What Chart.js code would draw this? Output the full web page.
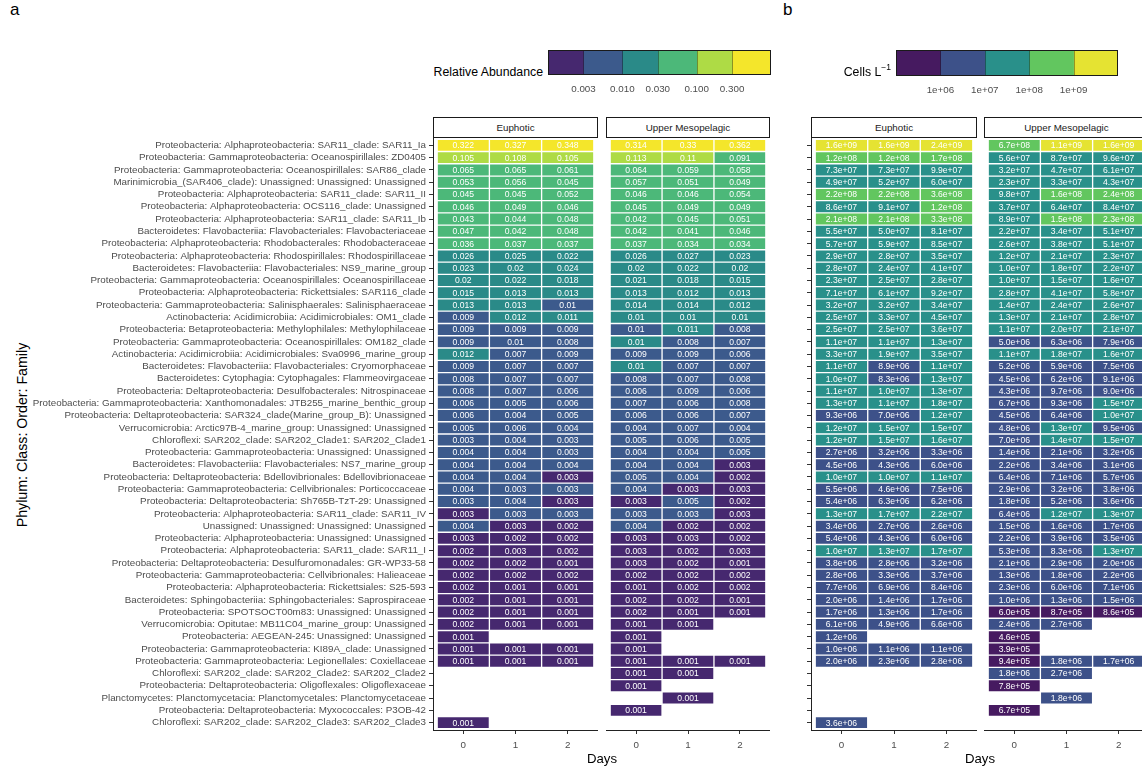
<!DOCTYPE html>
<html>
<head>
<meta charset="utf-8">
<script src="https://cdn.jsdelivr.net/npm/chart.js@4.4.1/dist/chart.umd.min.js"></script>
<style>
  html, body { margin: 0; padding: 0; background: #fff; }
  body { width: 1142px; height: 767px; overflow: hidden; position: relative;
         font-family: "Liberation Sans", Arial, sans-serif; color: #000; }
  canvas { position: absolute; }
  .txt { position: absolute; white-space: nowrap; }
  .strip { position: absolute; top: 117px; height: 21px; box-sizing: border-box;
           border: 1px solid #1a1a1a; background: #fff; font-size: 9.8px; color: #1a1a1a;
           text-align: center; line-height: 19px; }
</style>
</head>
<body>
<div class="txt" style="left:10px;top:0px;font-size:17px;">a</div>
<div class="txt" style="left:783px;top:0px;font-size:17px;">b</div>

<div class="txt" style="left:300px;width:243px;top:65px;text-align:right;font-size:12.3px;">Relative Abundance</div>
<canvas id="legA" width="223" height="50" style="left:548px;top:50px;"></canvas>
<div class="txt" style="left:700px;width:191px;top:65px;text-align:right;font-size:12.3px;">Cells L<sup style="font-size:8.5px;vertical-align:0;position:relative;top:-6px;">&minus;1</sup></div>
<canvas id="legB" width="222" height="51" style="left:896px;top:50px;"></canvas>

<div class="txt" style="left:-128px;width:300px;top:427px;text-align:center;font-size:14.2px;transform:rotate(-90deg);">Phylum: Class: Order: Family</div>

<div class="strip" style="left:433px;width:165px;">Euphotic</div>
<div class="strip" style="left:606px;width:164px;">Upper Mesopelagic</div>
<div class="strip" style="left:811px;width:166px;">Euphotic</div>
<div class="strip" style="left:984px;width:165px;">Upper Mesopelagic</div>

<canvas id="aEuph" width="598" height="622" style="left:0px;top:138px;"></canvas>
<canvas id="aMeso" width="164" height="622" style="left:606px;top:138px;"></canvas>
<canvas id="bEuph" width="197" height="622" style="left:780px;top:138px;"></canvas>
<canvas id="bMeso" width="165" height="622" style="left:984px;top:138px;"></canvas>

<div class="txt" style="left:552px;width:100px;top:751px;text-align:center;font-size:13.2px;">Days</div>
<div class="txt" style="left:930px;width:100px;top:751px;text-align:center;font-size:13.2px;">Days</div>

<script>
// ---- taxa (rows, top to bottom) ----
const taxa = [
  "Proteobacteria: Alphaproteobacteria: SAR11_clade: SAR11_Ia",
  "Proteobacteria: Gammaproteobacteria: Oceanospirillales: ZD0405",
  "Proteobacteria: Gammaproteobacteria: Oceanospirillales: SAR86_clade",
  "Marinimicrobia_(SAR406_clade): Unassigned: Unassigned: Unassigned",
  "Proteobacteria: Alphaproteobacteria: SAR11_clade: SAR11_II",
  "Proteobacteria: Alphaproteobacteria: OCS116_clade: Unassigned",
  "Proteobacteria: Alphaproteobacteria: SAR11_clade: SAR11_Ib",
  "Bacteroidetes: Flavobacteriia: Flavobacteriales: Flavobacteriaceae",
  "Proteobacteria: Alphaproteobacteria: Rhodobacterales: Rhodobacteraceae",
  "Proteobacteria: Alphaproteobacteria: Rhodospirillales: Rhodospirillaceae",
  "Bacteroidetes: Flavobacteriia: Flavobacteriales: NS9_marine_group",
  "Proteobacteria: Gammaproteobacteria: Oceanospirillales: Oceanospirillaceae",
  "Proteobacteria: Alphaproteobacteria: Rickettsiales: SAR116_clade",
  "Proteobacteria: Gammaproteobacteria: Salinisphaerales: Salinisphaeraceae",
  "Actinobacteria: Acidimicrobiia: Acidimicrobiales: OM1_clade",
  "Proteobacteria: Betaproteobacteria: Methylophilales: Methylophilaceae",
  "Proteobacteria: Gammaproteobacteria: Oceanospirillales: OM182_clade",
  "Actinobacteria: Acidimicrobiia: Acidimicrobiales: Sva0996_marine_group",
  "Bacteroidetes: Flavobacteriia: Flavobacteriales: Cryomorphaceae",
  "Bacteroidetes: Cytophagia: Cytophagales: Flammeovirgaceae",
  "Proteobacteria: Deltaproteobacteria: Desulfobacterales: Nitrospinaceae",
  "Proteobacteria: Gammaproteobacteria: Xanthomonadales: JTB255_marine_benthic_group",
  "Proteobacteria: Deltaproteobacteria: SAR324_clade(Marine_group_B): Unassigned",
  "Verrucomicrobia: Arctic97B-4_marine_group: Unassigned: Unassigned",
  "Chloroflexi: SAR202_clade: SAR202_Clade1: SAR202_Clade1",
  "Proteobacteria: Gammaproteobacteria: Unassigned: Unassigned",
  "Bacteroidetes: Flavobacteriia: Flavobacteriales: NS7_marine_group",
  "Proteobacteria: Deltaproteobacteria: Bdellovibrionales: Bdellovibrionaceae",
  "Proteobacteria: Gammaproteobacteria: Cellvibrionales: Porticoccaceae",
  "Proteobacteria: Deltaproteobacteria: Sh765B-TzT-29: Unassigned",
  "Proteobacteria: Alphaproteobacteria: SAR11_clade: SAR11_IV",
  "Unassigned: Unassigned: Unassigned: Unassigned",
  "Proteobacteria: Alphaproteobacteria: Unassigned: Unassigned",
  "Proteobacteria: Alphaproteobacteria: SAR11_clade: SAR11_I",
  "Proteobacteria: Deltaproteobacteria: Desulfuromonadales: GR-WP33-58",
  "Proteobacteria: Gammaproteobacteria: Cellvibrionales: Halieaceae",
  "Proteobacteria: Alphaproteobacteria: Rickettsiales: S25-593",
  "Bacteroidetes: Sphingobacteriia: Sphingobacteriales: Saprospiraceae",
  "Proteobacteria: SPOTSOCT00m83: Unassigned: Unassigned",
  "Verrucomicrobia: Opitutae: MB11C04_marine_group: Unassigned",
  "Proteobacteria: AEGEAN-245: Unassigned: Unassigned",
  "Proteobacteria: Gammaproteobacteria: KI89A_clade: Unassigned",
  "Proteobacteria: Gammaproteobacteria: Legionellales: Coxiellaceae",
  "Chloroflexi: SAR202_clade: SAR202_Clade2: SAR202_Clade2",
  "Proteobacteria: Deltaproteobacteria: Oligoflexales: Oligoflexaceae",
  "Planctomycetes: Planctomycetacia: Planctomycetales: Planctomycetaceae",
  "Proteobacteria: Deltaproteobacteria: Myxococcales: P3OB-42",
  "Chloroflexi: SAR202_clade: SAR202_Clade3: SAR202_Clade3"
];
const days = [0, 1, 2];

// ---- relative abundance, euphotic ----
const raEuphDay0 = [0.322,0.105,0.065,0.053,0.045,0.046,0.043,0.047,0.036,0.026,0.023,0.02,0.015,0.013,0.009,0.009,0.009,0.012,0.009,0.008,0.008,0.006,0.006,0.005,0.003,0.004,0.004,0.004,0.004,0.003,0.0029,0.004,0.0029,0.002,0.002,0.002,0.002,0.002,0.002,0.002,0.001,0.001,0.001,null,null,null,null,0.001];
const raEuphDay1 = [0.327,0.108,0.065,0.056,0.045,0.049,0.044,0.042,0.037,0.025,0.02,0.022,0.013,0.013,0.012,0.009,0.0099,0.007,0.007,0.007,0.007,0.005,0.004,0.006,0.004,0.004,0.004,0.004,0.003,0.004,0.003,0.0029,0.002,0.0029,0.002,0.002,0.001,0.001,0.001,0.001,null,0.001,0.001,null,null,null,null,null];
const raEuphDay2 = [0.348,0.105,0.061,0.045,0.052,0.046,0.048,0.048,0.037,0.022,0.024,0.018,0.013,0.0099,0.011,0.009,0.008,0.009,0.007,0.007,0.006,0.006,0.005,0.004,0.003,0.003,0.004,0.0029,0.003,0.0029,0.003,0.002,0.002,0.002,0.001,0.002,0.001,0.001,0.001,0.001,null,0.001,0.001,null,null,null,null,null];

// ---- relative abundance, upper mesopelagic ----
const raMesoDay0 = [0.314,0.113,0.064,0.057,0.046,0.045,0.042,0.042,0.037,0.026,0.02,0.021,0.013,0.014,0.01,0.0099,0.01,0.009,0.01,0.008,0.006,0.007,0.006,0.004,0.005,0.004,0.004,0.005,0.004,0.0029,0.003,0.004,0.0029,0.0029,0.0029,0.002,0.001,0.002,0.002,0.001,0.001,0.001,0.001,0.001,0.001,null,0.001,null];
const raMesoDay1 = [0.33,0.11,0.059,0.051,0.046,0.049,0.045,0.041,0.034,0.027,0.022,0.018,0.012,0.014,0.01,0.011,0.008,0.009,0.007,0.007,0.009,0.006,0.006,0.007,0.006,0.004,0.004,0.004,0.0029,0.005,0.003,0.002,0.0029,0.002,0.002,0.002,0.002,0.002,0.001,0.001,null,null,0.001,0.001,null,0.001,null,null];
const raMesoDay2 = [0.362,0.091,0.058,0.049,0.054,0.049,0.051,0.046,0.034,0.023,0.02,0.015,0.013,0.012,0.01,0.008,0.007,0.006,0.007,0.008,0.006,0.008,0.007,0.004,0.005,0.005,0.0029,0.002,0.0029,0.002,0.0029,0.002,0.002,0.0029,0.001,0.002,0.002,0.001,0.001,null,null,null,0.001,null,null,null,null,null];

// ---- cells per litre, euphotic ----
const cellsEuphDay0 = [1.6e9,1.2e8,7.3e7,4.9e7,2.2e8,8.6e7,2.1e8,5.5e7,5.7e7,2.9e7,2.8e7,2.3e7,7.1e7,3.2e7,2.5e7,2.5e7,1.1e7,3.3e7,1.1e7,1.0e7,1.1e7,1.3e7,9.3e6,1.2e7,1.2e7,2.7e6,4.5e6,1.0e7,5.5e6,5.4e6,1.3e7,3.4e6,5.4e6,1.0e7,3.8e6,2.8e6,7.7e6,2.0e6,1.7e6,6.1e6,1.2e6,1.0e6,2.0e6,null,null,null,null,3.6e6];
const cellsEuphDay1 = [1.6e9,1.2e8,7.3e7,5.2e7,2.2e8,9.1e7,2.1e8,5.0e7,5.9e7,2.8e7,2.4e7,2.5e7,6.1e7,3.2e7,3.3e7,2.5e7,1.1e7,1.9e7,8.9e6,8.3e6,1.0e7,1.1e7,7.0e6,1.5e7,1.5e7,3.2e6,4.3e6,1.0e7,4.6e6,6.3e6,1.7e7,2.7e6,4.3e6,1.3e7,2.8e6,3.3e6,6.9e6,1.4e6,1.3e6,4.9e6,null,1.1e6,2.3e6,null,null,null,null,null];
const cellsEuphDay2 = [2.4e9,1.7e8,9.9e7,6.0e7,3.6e8,1.2e8,3.3e8,8.1e7,8.5e7,3.5e7,4.1e7,2.8e7,9.2e7,3.4e7,4.5e7,3.6e7,1.3e7,3.5e7,1.1e7,1.3e7,1.3e7,1.8e7,1.2e7,1.5e7,1.6e7,3.3e6,6.0e6,1.1e7,7.5e6,6.2e6,2.2e7,2.6e6,6.0e6,1.7e7,3.2e6,3.7e6,8.4e6,1.7e6,1.7e6,6.6e6,null,1.1e6,2.8e6,null,null,null,null,null];

// ---- cells per litre, upper mesopelagic ----
const cellsMesoDay0 = [6.7e8,5.6e7,3.2e7,2.3e7,9.8e7,3.7e7,8.9e7,2.2e7,2.6e7,1.2e7,1.0e7,1.0e7,2.8e7,1.4e7,1.3e7,1.1e7,5.0e6,1.1e7,5.2e6,4.5e6,4.3e6,6.7e6,4.5e6,4.8e6,7.0e6,1.4e6,2.2e6,6.4e6,2.9e6,1.8e6,6.4e6,1.5e6,2.2e6,5.3e6,2.1e6,1.3e6,2.3e6,1.0e6,6.0e5,2.4e6,4.6e5,3.9e5,9.4e5,1.8e6,7.8e5,null,6.7e5,null];
const cellsMesoDay1 = [1.1e9,8.7e7,4.7e7,3.3e7,1.6e8,6.4e7,1.5e8,3.4e7,3.8e7,2.1e7,1.8e7,1.5e7,4.1e7,2.4e7,2.1e7,2.0e7,6.3e6,1.8e7,5.9e6,6.2e6,9.7e6,9.3e6,6.4e6,1.3e7,1.4e7,2.1e6,3.4e6,7.1e6,3.2e6,5.2e6,1.2e7,1.6e6,3.9e6,8.3e6,2.9e6,1.8e6,6.0e6,1.3e6,8.7e5,2.7e6,null,null,1.8e6,2.7e6,null,1.8e6,null,null];
const cellsMesoDay2 = [1.6e9,9.6e7,6.1e7,4.3e7,2.4e8,8.4e7,2.3e8,5.1e7,5.1e7,2.3e7,2.2e7,1.6e7,5.8e7,2.6e7,2.8e7,2.1e7,7.9e6,1.6e7,7.5e6,9.1e6,9.0e6,1.5e7,1.0e7,9.5e6,1.5e7,3.2e6,3.1e6,5.7e6,3.8e6,3.6e6,1.3e7,1.7e6,3.5e6,1.3e7,2.0e6,2.2e6,7.1e6,1.5e6,8.6e5,null,null,null,1.7e6,null,null,null,null,null];

// ---- colour bins ----
const raBreaks = [0.003, 0.01, 0.03, 0.1, 0.3];
const raLimits = [0.001, 1];
const raColors = ['#46286f', '#3c5a8c', '#2a8a88', '#4cb879', '#aedb45', '#f4e62b'];
const cellBreaks = [1e6, 1e7, 1e8, 1e9];
const cellLimits = [1e5, 1e10];
const cellColors = ['#461a60', '#3d5189', '#29908a', '#62c65f', '#e5e332'];

const FONT = '"Liberation Sans", Arial, sans-serif';
const AXIS_GREY = '#4d4d4d';

function binColor(v, breaks, colors) {
  let k = 0;
  while (k < breaks.length && v >= breaks[k]) k++;
  return colors[k];
}
const fmtRA = v => String(Number(v.toFixed(3)));
const fmtCells = v => {
  const [m, e] = v.toExponential(1).split('e');
  const n = Number(e);
  return m + 'e' + (n < 0 ? '-' : '+') + String(Math.abs(n)).padStart(2, '0');
};

// value labels written inside each tile
function tileLabels(format) {
  return {
    id: 'tileLabels',
    afterDatasetsDraw(chart) {
      const ctx = chart.ctx;
      ctx.save();
      ctx.font = '8.6px ' + FONT;
      ctx.fillStyle = '#ffffff';
      ctx.textAlign = 'center';
      ctx.textBaseline = 'middle';
      chart.data.datasets.forEach((ds, di) => {
        chart.getDatasetMeta(di).data.forEach((bar, j) => {
          const cx = (bar.x + bar.base) / 2;
          ctx.fillText(format(ds.data[j].v), cx, bar.y + 0.5);
        });
      });
      ctx.restore();
    }
  };
}

function facet(id, columns, breaks, colors, format, yMode, yWidth) {
  const datasets = days.map((d, k) => ({
    data: columns[k].map((v, i) => v == null ? null : { x: [d - 0.5, d + 0.5], y: i + 1, v: v }).filter(p => p),
    backgroundColor: c => binColor(c.raw.v, breaks, colors),
    borderColor: 'rgba(255,255,255,0.3)',
    borderWidth: 1,
    borderSkipped: false,
    grouped: false,
    barPercentage: 1,
    categoryPercentage: 1
  }));
  const yScale = {
    type: 'linear', reverse: true, min: 0.4, max: taxa.length + 0.6, offset: false,
    display: yMode !== 'none',
    afterBuildTicks: s => { s.ticks = taxa.map((_, i) => ({ value: i + 1 })); },
    ticks: {
      display: yMode === 'labels', autoSkip: false, padding: 3,
      callback: v => taxa[v - 1], font: { family: FONT, size: 9.8 }, color: AXIS_GREY
    },
    grid: { display: true, drawOnChartArea: false, drawTicks: true, tickLength: 4, color: '#333', offset: false },
    border: { display: true, color: '#222', width: 1 }
  };
  if (yWidth !== undefined) {
    yScale.afterFit = s => { s.width = yWidth; s.paddingTop = 0; s.paddingBottom = 0; };
  }
  new Chart(document.getElementById(id), {
    type: 'bar',
    data: { datasets },
    options: {
      indexAxis: 'y', responsive: false, animation: false, devicePixelRatio: 1,
      layout: { padding: 0 },
      plugins: { legend: { display: false }, tooltip: { enabled: false } },
      scales: {
        x: {
          type: 'linear', min: -0.58, max: 2.58,
          afterBuildTicks: s => { s.ticks = days.map(v => ({ value: v })); },
          afterFit: s => { s.height = 30; s.paddingLeft = 0; s.paddingRight = 0; },
          ticks: { callback: v => String(v), padding: 5, maxRotation: 0, font: { family: FONT, size: 9.8 }, color: AXIS_GREY },
          grid: { display: true, drawOnChartArea: false, drawTicks: true, tickLength: 4, color: '#333' },
          border: { display: true, color: '#222', width: 1 }
        },
        y: yScale
      }
    },
    plugins: [tileLabels(format)]
  });
}

facet('aEuph', [raEuphDay0, raEuphDay1, raEuphDay2], raBreaks, raColors, fmtRA, 'labels', 433);
facet('aMeso', [raMesoDay0, raMesoDay1, raMesoDay2], raBreaks, raColors, fmtRA, 'none');
facet('bEuph', [cellsEuphDay0, cellsEuphDay1, cellsEuphDay2], cellBreaks, cellColors, fmtCells, 'ticks', 31);
facet('bMeso', [cellsMesoDay0, cellsMesoDay1, cellsMesoDay2], cellBreaks, cellColors, fmtCells, 'none');

// ---- colour-step legends ----
const stepFrame = {
  id: 'stepFrame',
  afterDatasetsDraw(chart) {
    const { ctx, chartArea: a } = chart;
    const xs = chart.scales.x;
    ctx.save();
    ctx.strokeStyle = 'rgba(0,0,0,0.35)';
    ctx.lineWidth = 1;
    xs.ticks.forEach(t => {
      const px = Math.round(xs.getPixelForValue(t.value)) + 0.5;
      ctx.beginPath(); ctx.moveTo(px, a.top); ctx.lineTo(px, a.bottom); ctx.stroke();
    });
    ctx.strokeStyle = '#1a1a1a';
    ctx.strokeRect(a.left + 0.5, a.top + 0.5, a.width - 1, a.height - 1);
    ctx.restore();
  }
};

function stepLegend(id, breaks, limits, colors, labelFmt, axisHeight) {
  const edges = [limits[0], ...breaks, limits[1]];
  new Chart(document.getElementById(id), {
    type: 'bar',
    data: {
      labels: [''],
      datasets: colors.map((c, i) => ({
        data: [[edges[i], edges[i + 1]]], backgroundColor: c, borderWidth: 0,
        grouped: false, barPercentage: 1, categoryPercentage: 1
      }))
    },
    options: {
      indexAxis: 'y', responsive: false, animation: false, devicePixelRatio: 1,
      layout: { padding: 0 },
      plugins: { legend: { display: false }, tooltip: { enabled: false } },
      scales: {
        x: {
          type: 'logarithmic', min: limits[0], max: limits[1],
          afterBuildTicks: s => { s.ticks = breaks.map(v => ({ value: v })); },
          afterFit: s => { s.height = axisHeight; s.paddingLeft = 0; s.paddingRight = 0; },
          ticks: { callback: v => labelFmt(v), padding: 8, maxRotation: 0, autoSkip: false,
                   font: { family: FONT, size: 9.8 }, color: AXIS_GREY },
          grid: { display: false, drawTicks: false, tickLength: 0 }, border: { display: false }
        },
        y: { display: false }
      }
    },
    plugins: [stepFrame]
  });
}

stepLegend('legA', raBreaks, raLimits, raColors, v => v.toFixed(3), 25);
stepLegend('legB', cellBreaks, cellLimits, cellColors, v => '1e+' + String(Math.round(Math.log10(v))).padStart(2, '0'), 25);
</script>
</body>
</html>
